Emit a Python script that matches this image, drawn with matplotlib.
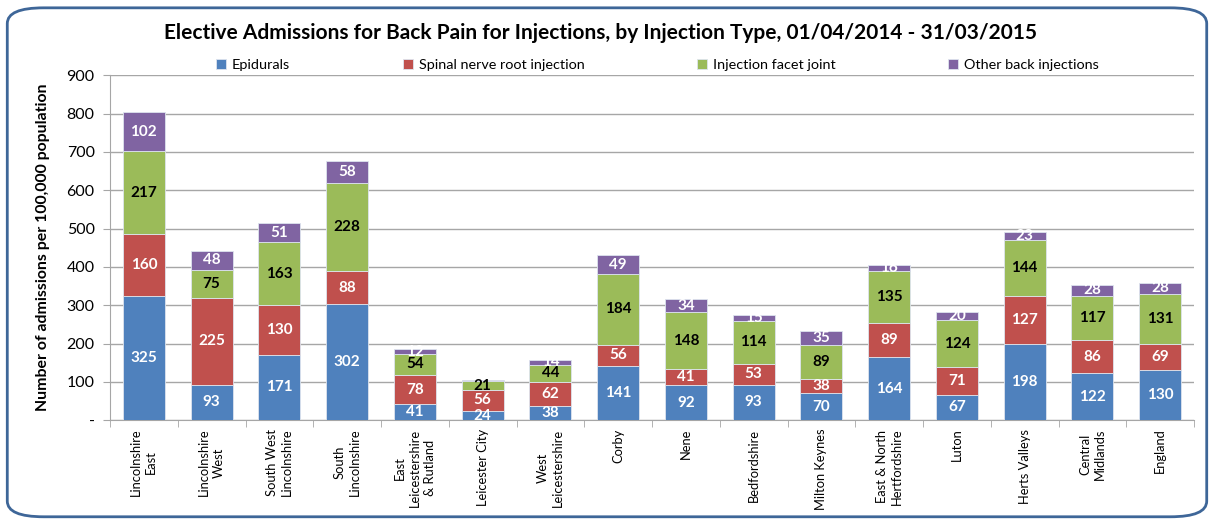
import matplotlib
matplotlib.use("Agg")
import matplotlib.pyplot as plt
import numpy as np
from matplotlib.patches import FancyBboxPatch

plt.rcParams['font.family'] = ['Lato', 'DejaVu Sans']

areas = ["Lincolnshire\nEast", "Lincolnshire\nWest", "South West\nLincolnshire",
         "South\nLincolnshire", "East\nLeicestershire\n& Rutland", "Leicester City",
         "West\nLeicestershire", "Corby", "Nene", "Bedfordshire", "Milton Keynes",
         "East & North\nHertfordshire", "Luton", "Herts Valleys", "Central\nMidlands",
         "England"]

epidurals = [325, 93, 171, 302, 41, 24, 38, 141, 92, 93, 70, 164, 67, 198, 122, 130]
spinal = [160, 225, 130, 88, 78, 56, 62, 56, 41, 53, 38, 89, 71, 127, 86, 69]
facet = [217, 75, 163, 228, 54, 21, 44, 184, 148, 114, 89, 135, 124, 144, 117, 131]
other = [102, 48, 51, 58, 12, 5, 14, 49, 34, 15, 35, 16, 20, 23, 28, 28]

series = [
    ("Epidurals", epidurals, "#4F81BD", "white"),
    ("Spinal nerve root injection", spinal, "#C0504D", "white"),
    ("Injection facet joint", facet, "#9BBB59", "black"),
    ("Other back injections", other, "#8064A2", "white"),
]

fig = plt.figure(figsize=(12.14, 5.22), dpi=100)
ax = fig.add_axes([0.0906, 0.195, 0.893, 0.661])

x = np.arange(len(areas))
bottom = np.zeros(len(areas))
for name, vals, col, tcol in series:
    vals = np.array(vals, dtype=float)
    ax.bar(x, vals, 0.62, bottom=bottom, color=col, edgecolor="#dde4ee",
           linewidth=0.6, label=name, zorder=3)
    for xi, b, v in zip(x, bottom, vals):
        if v >= 10:
            ax.text(xi, b + v / 2, f"{int(v)}", ha="center", va="center",
                    color=tcol, fontsize=11, fontweight="bold", zorder=4)
    bottom += vals

ax.set_xlim(-0.5, len(areas) - 0.5)
ax.set_ylim(0, 900)
ax.set_yticks(np.arange(0, 901, 100))
ax.set_yticklabels(["-"] + [str(v) for v in range(100, 901, 100)], fontsize=11.5)
ax.yaxis.grid(True, color="#a6a6a6", linewidth=1, zorder=0)
ax.set_axisbelow(True)

ax.set_xticks(x)
ax.set_xticklabels(areas, rotation=90, fontsize=9.3, va="top", ha="center",
                   multialignment="center", linespacing=1.3)
ax.tick_params(axis="x", length=0, pad=6)
ax.set_xticks(np.arange(-0.5, len(areas), 1), minor=True)
ax.tick_params(axis="x", which="minor", length=5, color="#a6a6a6")
ax.tick_params(axis="y", length=5, color="#a6a6a6", pad=6)

for s in ["top", "right"]:
    ax.spines[s].set_visible(False)
for s in ["left", "bottom"]:
    ax.spines[s].set_color("#a6a6a6")

ax.set_ylabel("Number of admissions per 100,000 population", fontsize=11.4,
              fontweight="bold", labelpad=12)

fig.text(0.495, 0.937, "Elective Admissions for Back Pain for Injections, by Injection Type, 01/04/2014 - 31/03/2015",
         ha="center", va="center", fontsize=15, fontweight="bold")

ax.legend(loc="lower center", bbox_to_anchor=(0.505, 0.995), ncol=4, frameon=False,
          fontsize=10.4, handlelength=0.7, handleheight=0.7, columnspacing=7.8,
          handletextpad=0.4, borderaxespad=0)

fig.patches.append(FancyBboxPatch((0.006, 0.01), 0.988, 0.975,
                                  boxstyle="round,pad=0,rounding_size=0.03",
                                  transform=fig.transFigure, fill=False,
                                  edgecolor="#3E6698", linewidth=2))

fig.savefig("out.png", dpi=100)
